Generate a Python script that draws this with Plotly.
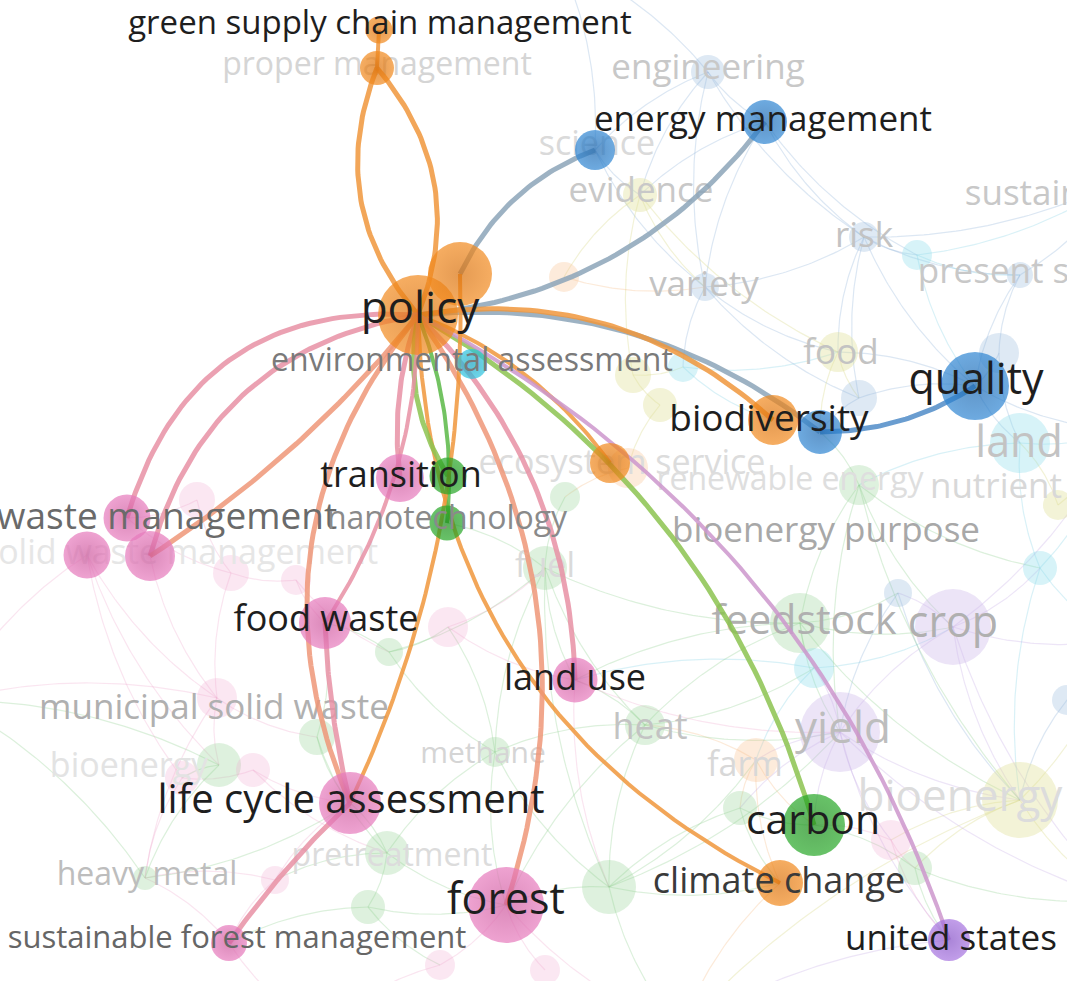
import numpy as np
import plotly.graph_objects as go

W, H = 1067, 981

# ---------------- highlighted nodes ----------------
hl_ids = ["policy", "policy2", "gscm", "properm", "envass", "science", "energym",
          "biodivo", "biodivb", "quality", "ecosys", "transp", "transg", "nanotech",
          "wasteA", "wasteB", "wasteC", "foodwaste", "landuse", "lca", "forest", "sfm",
          "carbon", "climate", "us"]
hl_x = [418, 460, 379, 377, 472, 595, 765, 773, 820, 975, 610, 400, 448, 447,
        127, 87, 150, 325, 575, 350, 506, 229, 814, 780, 949]
hl_y = [315, 274, 30, 68, 364, 150, 122, 420, 432, 386, 463, 478, 476, 523,
        518, 555, 556, 623, 680, 803, 905, 943, 825, 883, 940]
hl_d = [80, 64, 27, 34, 30, 40, 44, 50, 44, 68, 40, 48, 37, 35,
        47, 47, 50, 52, 45, 62, 76, 36, 62, 46, 42]
hl_group = ["orange", "orange", "orange", "orange", "cyan", "blue", "blue",
            "orange", "blue", "blue", "orange", "pink", "green", "green",
            "pink", "pink", "pink", "pink", "pink", "pink", "pink", "pink",
            "green", "orange", "purple"]

# ---------------- faded background nodes ----------------
bg_ids = ["engineering", "evidence", "risk", "cyanA", "present", "variety", "orangeF",
          "food", "blueF2", "blueF3", "land", "yellowA", "yellowC", "cyanB", "greenA",
          "ecoshalo", "greenT", "fuel", "feedstock", "crop", "yield", "bioenergy", "farm",
          "heat", "cyanC", "blueS", "cyanD", "greenB", "greenC", "pinkA", "greenD",
          "yellowB", "blueR", "greenE", "greenF", "greenG", "greenH", "greenI", "heavym",
          "pinkB", "pinkC", "pinkD", "pinkE", "pinkF", "pinkG", "pinkH", "methane",
          "pretreat", "pinkJ", "pinkK"]
bg_x = [708, 640, 864, 917, 1020, 705, 564, 838, 859, 999, 1020, 633, 660, 683, 859,
        628, 565, 545, 800, 953, 840, 1020, 756, 645, 814, 898, 1040, 609, 740, 891, 915,
        1058, 1067, 389, 317, 219, 387, 368, 145, 217, 253, 182, 448, 231, 296, 197, 495,
        275, 440, 545]
bg_y = [72, 195, 237, 255, 275, 287, 277, 352, 398, 353, 443, 375, 405, 367, 485,
        468, 497, 568, 623, 627, 732, 800, 760, 725, 668, 593, 568, 887, 808, 840, 868,
        505, 700, 652, 737, 765, 853, 907, 878, 698, 770, 778, 627, 573, 580, 500, 752,
        880, 965, 970]
bg_d = [34, 34, 30, 30, 26, 28, 30, 40, 36, 40, 60, 36, 34, 30, 40,
        40, 30, 44, 60, 76, 80, 76, 44, 40, 40, 28, 34, 54, 34, 40, 34,
        30, 30, 28, 36, 44, 44, 34, 24, 40, 34, 34, 40, 36, 30, 36, 30,
        28, 30, 30]
bg_group = ["blue", "yellow", "blue", "cyan", "blue", "blue", "orange",
            "yellow", "blue", "blue", "cyan", "yellow", "yellow", "cyan", "green",
            "orange", "green", "green", "green", "purple", "purple", "yellow", "orange",
            "green", "cyan", "blue", "cyan", "green", "green", "pink", "green",
            "yellow", "blue", "green", "green", "green", "green", "green", "green",
            "pink", "pink", "pink", "pink", "pink", "pink", "pink", "green",
            "pink", "pink", "pink"]

# off-screen anchors of links that leave the view
off_ids = ["offR1", "offR2", "offR3", "offR4", "offB1", "offB2", "offL1", "offT1"]
off_x = [1120, 1120, 1120, 1120, 680, 320, -50, 560]
off_y = [180, 430, 640, 900, 1030, 1030, 700, -40]

# ---------------- highlighted links: (source, target, bend, colour, width) ----------------
hl_edges = [
    ("policy", "properm", -0.3, "orange", 5),
    ("policy", "properm", 0.3, "orange", 5),
    ("properm", "gscm", 0.0, "orange", 4),
    ("policy2", "science", -0.2, "steel", 5),
    ("policy", "energym", 0.22, "steel", 5),
    ("policy", "biodivb", -0.2, "steel", 5),
    ("biodivb", "quality", 0.15, "blue", 5),
    ("policy", "biodivo", -0.24, "orange", 5),
    ("policy", "ecosys", -0.15, "orange", 4),
    ("policy", "carbon", -0.2, "olive", 5),
    ("policy", "us", -0.2, "mauve", 4),
    ("policy", "climate", 0.3, "orange", 4),
    ("policy", "landuse", -0.2, "pink", 5),
    ("policy", "forest", -0.25, "salmon", 5),
    ("policy", "transp", 0.12, "pink", 5),
    ("policy", "transg", 0.2, "olive", 5),
    ("policy", "nanotech", -0.12, "green", 4),
    ("policy", "foodwaste", -0.15, "pink", 4),
    ("policy", "lca", 0.3, "salmon", 5),
    ("policy2", "lca", -0.12, "orange", 4),
    ("foodwaste", "lca", 0.05, "pink", 5),
    ("lca", "sfm", 0.05, "pink", 5),
    ("policy", "wasteA", 0.4, "pink", 5),
    ("policy", "wasteC", 0.32, "pink", 5),
    ("policy", "wasteC", -0.08, "salmon", 5),
]

# ---------------- faded background links ----------------
bg_edges = [
    ("engineering", "science"), ("engineering", "energym"), ("engineering", "evidence"),
    ("engineering", "variety"), ("engineering", "risk"), ("science", "evidence"),
    ("science", "variety"), ("energym", "risk"), ("energym", "evidence"),
    ("energym", "variety"), ("energym", "cyanA"), ("evidence", "variety"),
    ("evidence", "food"), ("variety", "risk"), ("variety", "food"), ("variety", "blueF2"),
    ("risk", "cyanA"), ("risk", "present"), ("risk", "food"), ("risk", "blueF2"),
    ("risk", "quality"), ("cyanA", "present"), ("cyanA", "quality"), ("present", "quality"),
    ("present", "blueF3"), ("present", "offR1"), ("quality", "blueF3"), ("quality", "land"),
    ("quality", "food"), ("quality", "blueF2"), ("quality", "offR2"), ("blueF3", "land"),
    ("land", "offR2"), ("land", "greenA"), ("land", "cyanD"), ("food", "blueF2"),
    ("food", "biodivb"), ("blueF2", "biodivb"), ("evidence", "yellowA"), ("variety", "cyanB"),
    ("yellowA", "cyanB"), ("yellowA", "yellowC"), ("cyanB", "food"), ("engineering", "offT1"),
    ("science", "offT1"), ("risk", "offR1"), ("cyanA", "offR1"), ("evidence", "orangeF"),
    ("orangeF", "variety"), ("ecoshalo", "greenT"), ("greenT", "fuel"), ("fuel", "feedstock"),
    ("fuel", "heat"), ("fuel", "nanotech"), ("greenA", "feedstock"), ("greenA", "crop"),
    ("greenA", "bioenergy"), ("feedstock", "crop"), ("feedstock", "yield"),
    ("feedstock", "cyanC"), ("feedstock", "heat"), ("feedstock", "blueS"), ("crop", "yield"),
    ("crop", "bioenergy"), ("crop", "blueS"), ("crop", "cyanD"), ("crop", "offR3"),
    ("yield", "bioenergy"), ("yield", "farm"), ("yield", "carbon"), ("yield", "cyanC"),
    ("yield", "greenC"), ("yield", "pinkA"), ("bioenergy", "offR3"), ("bioenergy", "offR4"),
    ("bioenergy", "greenD"), ("bioenergy", "pinkA"), ("farm", "heat"), ("farm", "greenC"),
    ("farm", "carbon"), ("heat", "methane"), ("heat", "greenB"), ("heat", "landuse"),
    ("methane", "greenH"), ("methane", "pinkE"), ("methane", "greenB"), ("greenB", "forest"),
    ("greenB", "climate"), ("greenC", "carbon"), ("pinkA", "greenD"), ("greenD", "us"),
    ("us", "offB1"), ("climate", "offB1"), ("forest", "offB1"), ("forest", "pinkK"),
    ("greenB", "offB1"), ("cyanD", "offR3"), ("yellowB", "offR2"), ("yellowB", "land"),
    ("blueR", "offR3"), ("blueR", "bioenergy"), ("wasteA", "pinkH"), ("wasteA", "pinkF"),
    ("pinkF", "pinkG"), ("pinkG", "foodwaste"), ("pinkF", "pinkB"), ("pinkB", "greenG"),
    ("greenG", "pinkD"), ("pinkD", "pinkC"), ("pinkC", "lca"), ("greenF", "lca"),
    ("greenF", "foodwaste"), ("greenE", "foodwaste"), ("greenE", "pinkE"),
    ("pinkE", "landuse"), ("pinkB", "greenF"), ("greenG", "heavym"), ("heavym", "lca"),
    ("heavym", "offL1"), ("pinkB", "offL1"), ("greenH", "lca"), ("greenI", "forest"),
    ("greenI", "greenH"), ("greenH", "pretreat"), ("pretreat", "sfm"), ("pretreat", "heavym"),
    ("sfm", "offB2"), ("pinkJ", "forest"), ("pinkJ", "offB2"), ("greenI", "sfm"),
    ("greenH", "forest"), ("wasteB", "pinkB"), ("wasteC", "pinkB"), ("wasteB", "offL1"),
    ("greenG", "offL1"), ("pinkD", "heavym"), ("greenE", "fuel"), ("fuel", "landuse"),
    ("cyanC", "landuse"), ("greenA", "biodivb"), ("cyanB", "biodivo"), ("yellowC", "ecoshalo"),
    ("feedstock", "landuse"), ("heat", "forest"), ("farm", "climate"), ("pinkA", "carbon"),
    ("greenD", "carbon"), ("yield", "us"), ("crop", "offR4"), ("cyanD", "offR2"),
    ("feedstock", "bioenergy"), ("cyanC", "crop"), ("cyanC", "farm"), ("blueS", "yield"),
    ("blueS", "bioenergy"), ("cyanD", "bioenergy"), ("greenA", "yield"), ("greenA", "cyanD"),
    ("heat", "cyanC"), ("heat", "yield"), ("methane", "forest"), ("greenB", "yield"),
    ("greenB", "farm"), ("greenC", "climate"), ("greenC", "greenB"), ("pinkA", "us"),
    ("greenD", "offR4"), ("yield", "offR4"), ("crop", "offR2"), ("bioenergy", "offB1"),
    ("fuel", "methane"), ("fuel", "greenB"), ("landuse", "yield"), ("landuse", "greenB"),
    ("pinkE", "fuel"), ("greenE", "methane"), ("pinkG", "greenE"), ("pinkH", "pinkF"),
    ("wasteB", "pinkD"), ("wasteB", "greenG"), ("pinkB", "heavym"), ("pinkC", "greenH"),
    ("lca", "pretreat"), ("greenF", "greenH"), ("greenI", "pinkJ"), ("sfm", "heavym"),
]

# ---------------- labels ----------------
main_text = ["green supply chain management", "energy management", "policy", "quality",
             "biodiversity", "transition", "food waste", "land use", "life cycle assessment",
             "forest", "carbon", "climate change", "united states",
             "environmental assessment", "waste management", "nanotechnology",
             "sustainable forest management"]
main_lx = [380, 763, 420, 976, 769, 401, 326, 575, 351, 506, 813, 779, 951, 472, 167, 447, 237]
main_ly = [26, 122, 312, 383, 422, 478, 622, 681, 803, 903, 824, 884, 941, 363, 520, 521, 940]
main_size = [33, 35, 44, 43, 37, 36, 36, 36, 40, 43, 41, 36, 35, 32, 37, 32, 31]
main_col = ["#1e1e1e"] * 11 + ["#3a3a3a", "#1e1e1e", "#7a7a7a", "#6a6a6a", "#8a8a8a", "#666666"]

faint_text = ["bioenergy purpose", "feedstock", "crop", "municipal solid waste", "heavy metal",
              "yield", "heat", "engineering", "evidence", "risk", "variety", "present study",
              "sustainability", "food", "land", "proper management", "science",
              "ecosystem service", "renewable energy", "nutrient", "fuel", "farm", "methane",
              "bioenergy", "bioenergy", "solid waste management", "pretreatment"]
faint_lx = [826, 804, 953, 214, 147, 843, 650, 708, 641, 864, 704, 1030, 1072, 841, 1019,
            377, 597, 622, 790, 996, 545, 745, 483, 960, 129, 180, 392]
faint_ly = [533, 624, 626, 710, 877, 732, 730, 70, 193, 238, 287, 274, 196, 355, 446,
            67, 146, 465, 482, 489, 568, 767, 755, 800, 768, 555, 858]
faint_size = [35, 41, 43, 35, 32, 44, 36, 35, 35, 35, 35, 35, 35, 35, 43,
              32, 34, 34, 32, 35, 34, 34, 30, 44, 34, 34, 32]
faint_col = ["#a8a8a8", "#b0b0b0", "#b0b0b0", "#b0b0b0", "#bdbdbd", "#bdbdbd", "#c3c3c3",
             "#c8c8c8", "#c8c8c8", "#c3c3c3", "#c3c3c3", "#c8c8c8", "#c8c8c8", "#c3c3c3",
             "#c3c3c3", "#d5d5d5", "#dadada", "#dcdcdc", "#dedede", "#d8d8d8", "#dadada",
             "#d8d8d8", "#d5d5d5", "#dcdcdc", "#e3e3e3", "#e6e6e6", "#dcdcdc"]

# ---------------- styling ----------------
solid = {"orange": "#f28a1e", "blue": "#2f86d3", "pink": "#e77bbd", "green": "#27a827",
         "cyan": "#2ec4e0", "purple": "#a774e0", "yellow": "#c8c860"}
shade = {"orange": "#d96f08", "blue": "#1b67b0", "pink": "#cc579c", "green": "#168a16",
         "cyan": "#16a4c2", "purple": "#8550c6", "yellow": "#a8a840"}
faded = {"orange": "rgba(248,190,140,0.45)", "blue": "rgba(150,185,220,0.45)",
         "pink": "rgba(240,170,210,0.40)", "green": "rgba(150,210,150,0.45)",
         "cyan": "rgba(140,220,235,0.50)", "purple": "rgba(205,185,235,0.55)",
         "yellow": "rgba(225,225,150,0.55)"}
bg_line = {"orange": "rgba(245,180,120,0.28)", "blue": "rgba(140,175,215,0.30)",
           "pink": "rgba(238,160,200,0.28)", "green": "rgba(140,205,140,0.30)",
           "cyan": "rgba(130,210,230,0.30)", "purple": "rgba(195,170,230,0.30)",
           "yellow": "rgba(215,215,130,0.32)"}
edge_col = {"orange": "rgba(240,150,60,0.85)", "steel": "rgba(140,165,185,0.85)",
            "blue": "rgba(80,140,200,0.85)", "olive": "rgba(140,195,80,0.85)",
            "green": "rgba(90,185,70,0.85)", "mauve": "rgba(205,150,205,0.85)",
            "pink": "rgba(232,145,165,0.85)", "salmon": "rgba(238,150,120,0.85)"}

pos = {}
grp = {}
for i, k in enumerate(hl_ids):
    pos[k] = (hl_x[i], hl_y[i]); grp[k] = hl_group[i]
for i, k in enumerate(bg_ids):
    pos[k] = (bg_x[i], bg_y[i]); grp[k] = bg_group[i]
for i, k in enumerate(off_ids):
    pos[k] = (off_x[i], off_y[i]); grp[k] = None


def curve(a, b, bend, n=50):
    (x0, y0), (x1, y1) = pos[a], pos[b]
    dx, dy = x1 - x0, y1 - y0
    L = np.hypot(dx, dy)
    nx, ny = -dy / L, dx / L
    cx = (x0 + x1) / 2 + bend * L * nx
    cy = (y0 + y1) / 2 + bend * L * ny
    t = np.linspace(0, 1, n)
    xs = (1 - t) ** 2 * x0 + 2 * (1 - t) * t * cx + t ** 2 * x1
    ys = (1 - t) ** 2 * y0 + 2 * (1 - t) * t * cy + t ** 2 * y1
    return xs, ys


fig = go.Figure()

# background links grouped by colour
groups = {}
for a, b in bg_edges:
    g = grp[a] or grp[b]
    xs, ys = curve(a, b, 0.12)
    gx, gy = groups.setdefault(g, ([], []))
    gx.extend(list(xs) + [None]); gy.extend(list(ys) + [None])
for g, (gx, gy) in groups.items():
    fig.add_trace(go.Scatter(x=gx, y=gy, mode="lines", hoverinfo="skip",
                             line=dict(color=bg_line[g], width=1.2), showlegend=False))

# background nodes
fig.add_trace(go.Scatter(x=bg_x, y=bg_y, mode="markers", hoverinfo="skip", showlegend=False,
                         marker=dict(size=bg_d, color=[faded[g] for g in bg_group],
                                     line=dict(width=0))))

# faint labels
fig.add_trace(go.Scatter(x=faint_lx, y=faint_ly, mode="text", text=faint_text,
                         textposition="middle center", hoverinfo="skip", showlegend=False,
                         textfont=dict(family="Open Sans", size=faint_size, color=faint_col)))

# highlighted links
for a, b, bend, c, w in hl_edges:
    xs, ys = curve(a, b, bend)
    fig.add_trace(go.Scatter(x=xs, y=ys, mode="lines", hoverinfo="skip", showlegend=False,
                             line=dict(color=edge_col[c], width=w)))

# highlighted nodes
fig.add_trace(go.Scatter(x=hl_x, y=hl_y, mode="markers", hoverinfo="skip", showlegend=False,
                         marker=dict(size=hl_d, color=[solid[g] for g in hl_group],
                                     gradient=dict(type="radial",
                                                   color=[shade[g] for g in hl_group]),
                                     line=dict(width=0))))

# main labels
fig.add_trace(go.Scatter(x=main_lx, y=main_ly, mode="text", text=main_text,
                         textposition="middle center", hoverinfo="skip", showlegend=False,
                         textfont=dict(family="Open Sans", size=main_size, color=main_col)))

fig.update_layout(width=W, height=H, margin=dict(l=0, r=0, t=0, b=0),
                  paper_bgcolor="white", plot_bgcolor="white", showlegend=False,
                  xaxis=dict(range=[0, W], visible=False, fixedrange=True),
                  yaxis=dict(range=[H, 0], visible=False, fixedrange=True))

fig.write_html("out.html", config={"displayModeBar": False},
               post_script="document.body.style.margin='0';document.body.style.overflow='hidden';")
